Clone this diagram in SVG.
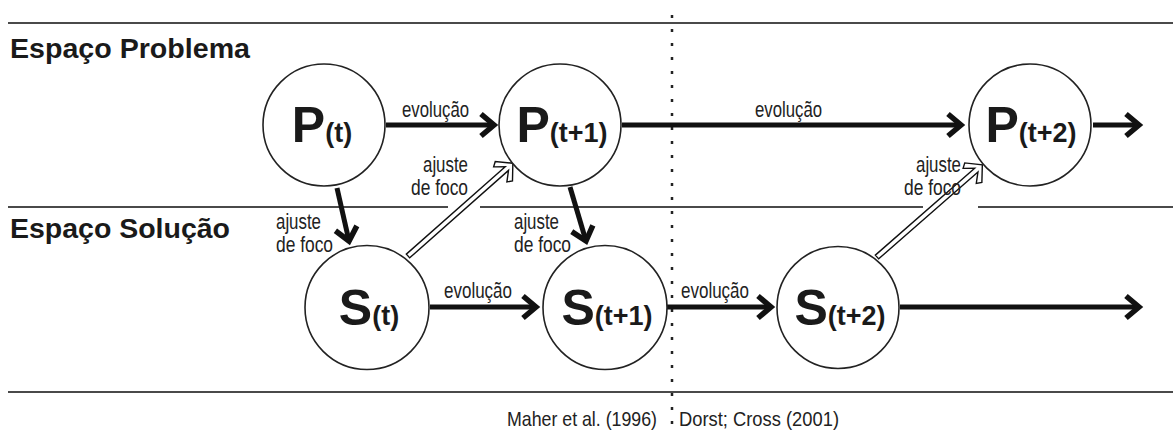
<svg xmlns="http://www.w3.org/2000/svg" width="1173" height="430" viewBox="0 0 1173 430">
<style>
.rule{stroke:#4a4a4a;stroke-width:2;fill:none}
.dots{stroke:#222;stroke-width:2.5;stroke-dasharray:3 11;fill:none}
.node{fill:#fff;stroke:#222;stroke-width:1.6}
.big{font-family:"Liberation Sans",Arial,sans-serif;font-weight:bold;fill:#1a1a1a}
.sub{font-size:27px}
.lbl{font-family:"Liberation Sans",Arial,sans-serif;font-size:22px;fill:#222}
.cap{font-family:"Liberation Sans",Arial,sans-serif;font-weight:bold;font-size:28px;fill:#1a1a1a}
.src{font-family:"Liberation Sans",Arial,sans-serif;font-size:21px;fill:#222}
.arr{stroke:#111;stroke-width:5;fill:none;marker-end:url(#chev)}
.hol{fill:#fff;stroke:#111;stroke-width:1.4;stroke-linejoin:miter}
</style>
<defs>
<marker id="chev" markerUnits="userSpaceOnUse" viewBox="-16 -12 20 24" refX="0" refY="0" markerWidth="20" markerHeight="24" orient="auto" overflow="visible">
<path d="M-13,-11 L0,0 L-13,11" fill="none" stroke="#111" stroke-width="5.5" stroke-linejoin="miter"/>
</marker>
</defs>
<g id="rules">
<line class="rule" x1="8" y1="23" x2="1173" y2="23"/>
<line class="rule" x1="8" y1="207" x2="448" y2="207"/>
<line class="rule" x1="480" y1="207" x2="923" y2="207"/>
<line class="rule" x1="978" y1="207" x2="1173" y2="207"/>
<line class="rule" x1="8" y1="392" x2="1173" y2="392"/>
<line class="dots" x1="672" y1="15" x2="672" y2="430"/>
</g>
<g id="titles">
<text class="cap" x="10" y="58" textLength="240" lengthAdjust="spacingAndGlyphs">Espaço Problema</text>
<text class="cap" x="10" y="238" textLength="220" lengthAdjust="spacingAndGlyphs">Espaço Solução</text>
<text class="src" x="507" y="426" textLength="150" lengthAdjust="spacingAndGlyphs">Maher et al. (1996)</text>
<text class="src" x="679" y="426" textLength="160" lengthAdjust="spacingAndGlyphs">Dorst; Cross (2001)</text>
</g>
<g id="connectors">
<line class="arr" x1="386" y1="125" x2="494" y2="125"/>
<line class="arr" x1="622" y1="125" x2="961" y2="125"/>
<line class="arr" x1="1093" y1="125" x2="1139" y2="125"/>
<line class="arr" x1="430" y1="307" x2="536" y2="307"/>
<line class="arr" x1="667" y1="307" x2="771" y2="307"/>
<line class="arr" x1="900" y1="307" x2="1139" y2="307"/>
<line class="arr" x1="337" y1="188" x2="349" y2="241"/>
<line class="arr" x1="570" y1="187" x2="586" y2="241"/>
<g transform="translate(408,256) rotate(-41.5)">
<polygon class="hol" points="0,-2.5 132,-2.5 123.2,-10 128,-13 140,0 128,13 123.2,10 132,2.5 0,2.5"/>
</g>
<g transform="translate(877,257) rotate(-41.2)">
<polygon class="hol" points="0,-2.5 132,-2.5 123.2,-10 128,-13 140,0 128,13 123.2,10 132,2.5 0,2.5"/>
</g>
<text class="lbl" x="402" y="117" textLength="67" lengthAdjust="spacingAndGlyphs">evolução</text>
<text class="lbl" x="755" y="117" textLength="67" lengthAdjust="spacingAndGlyphs">evolução</text>
<text class="lbl" x="444" y="298" textLength="68" lengthAdjust="spacingAndGlyphs">evolução</text>
<text class="lbl" x="681" y="298" textLength="68" lengthAdjust="spacingAndGlyphs">evolução</text>
<text class="lbl" x="423" y="172" textLength="45" lengthAdjust="spacingAndGlyphs">ajuste</text>
<text class="lbl" x="411" y="195" textLength="57" lengthAdjust="spacingAndGlyphs">de foco</text>
<text class="lbl" x="916" y="172" textLength="45" lengthAdjust="spacingAndGlyphs">ajuste</text>
<text class="lbl" x="904" y="195" textLength="57" lengthAdjust="spacingAndGlyphs">de foco</text>
<text class="lbl" x="276" y="229" textLength="45" lengthAdjust="spacingAndGlyphs">ajuste</text>
<text class="lbl" x="276" y="252" textLength="57" lengthAdjust="spacingAndGlyphs">de foco</text>
<text class="lbl" x="514" y="229" textLength="45" lengthAdjust="spacingAndGlyphs">ajuste</text>
<text class="lbl" x="514" y="252" textLength="57" lengthAdjust="spacingAndGlyphs">de foco</text>
</g>
<g id="P_t">
<circle class="node" cx="324" cy="125" r="61"/>
<text class="big" x="322" y="142" text-anchor="middle" font-size="50">P<tspan class="sub">(t)</tspan></text>
</g>
<g id="P_t1">
<circle class="node" cx="560" cy="125" r="61"/>
<text class="big" x="562" y="142" text-anchor="middle" font-size="50">P<tspan class="sub">(t+1)</tspan></text>
</g>
<g id="P_t2">
<circle class="node" cx="1030" cy="125" r="61"/>
<text class="big" x="1031" y="142" text-anchor="middle" font-size="50">P<tspan class="sub">(t+2)</tspan></text>
</g>
<g id="S_t">
<circle class="node" cx="367" cy="307.5" r="62"/>
<text class="big" x="369" y="325" text-anchor="middle" font-size="50">S<tspan class="sub">(t)</tspan></text>
</g>
<g id="S_t1">
<circle class="node" cx="605" cy="307.5" r="62"/>
<text class="big" x="607" y="325" text-anchor="middle" font-size="50">S<tspan class="sub">(t+1)</tspan></text>
</g>
<g id="S_t2">
<circle class="node" cx="838" cy="307.5" r="61"/>
<text class="big" x="840" y="325" text-anchor="middle" font-size="50">S<tspan class="sub">(t+2)</tspan></text>
</g>
</svg>
